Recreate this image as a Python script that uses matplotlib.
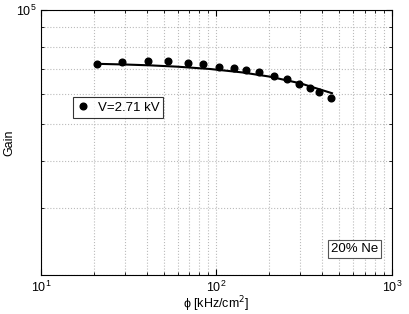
import matplotlib
matplotlib.use("Agg")
import matplotlib.pyplot as plt
from matplotlib.ticker import LogLocator, NullFormatter, FixedLocator, LogFormatterSciNotation

plt.rcParams['font.family'] = ['Liberation Sans', 'DejaVu Sans']

# measured gain vs rate
rate = [20.9, 28.9, 40.7, 52.9, 68.8, 83.8, 103.3, 125.8, 147.2, 174.6,
        212.6, 252, 295, 341, 384, 449]
gain = [72100, 72950, 73400, 73400, 72500, 72100, 70800, 70350, 69500, 68650,
        67000, 65800, 63800, 62300, 60800, 58700]

# fitted curve
fit_rate = [21, 30, 42, 60, 92, 140, 200, 300, 455]
fit_gain = [72120, 71830, 71450, 70880, 69890, 68460, 66750, 64080, 60340]

legend_label = "V=2.71 kV"
gas_label = "20% Ne"

fig = plt.figure(figsize=(4.09, 3.14), dpi=100)
ax = fig.add_axes([0.1002, 0.1242, 0.8582, 0.8439])

ax.plot(fit_rate, fit_gain, color='black', lw=1.5)
ax.plot(rate, gain, 'o', color='black', ms=4.8, label=legend_label)

ax.set_xscale('log')
ax.set_yscale('log')
ax.set_xlim(10, 1000)
ax.set_ylim(2e4, 1e5)

ax.xaxis.set_major_locator(FixedLocator([10, 100, 1000]))
ax.xaxis.set_minor_locator(LogLocator(base=10, subs=range(2, 10)))
ax.xaxis.set_minor_formatter(NullFormatter())
ax.yaxis.set_major_locator(FixedLocator([1e5]))
ax.yaxis.set_major_formatter(LogFormatterSciNotation())
ax.yaxis.set_minor_locator(FixedLocator([2e4, 3e4, 4e4, 5e4, 6e4, 7e4, 8e4, 9e4]))
ax.yaxis.set_minor_formatter(NullFormatter())

ax.grid(True, which='both', linestyle=':', color='#bbbbbb', lw=0.8)
ax.tick_params(which='both', direction='in', top=True, right=True, labelsize=9)
ax.tick_params(which='major', length=4)
ax.tick_params(which='minor', length=2)
for s in ax.spines.values():
    s.set_linewidth(0.8)

ax.set_xlabel("\u03d5 [kHz/cm$^2$]", fontsize=9)
ax.set_ylabel("Gain", fontsize=9)
ax.xaxis.set_label_coords(0.5, -0.075)
ax.yaxis.set_label_coords(-0.072, 0.5)

leg = ax.legend(loc='upper left', bbox_to_anchor=(0.09, 0.67), fontsize=9.5,
                frameon=True, fancybox=False, edgecolor='black', handlelength=1.0,
                handletextpad=0.6, borderpad=0.3, borderaxespad=0)
leg.get_frame().set_linewidth(0.8)

ax.text(0.893, 0.098, gas_label, transform=ax.transAxes, fontsize=9.5, ha='center', va='center',
        bbox=dict(boxstyle='square,pad=0.25', facecolor='white', edgecolor='#555555', lw=0.8))

fig.savefig("out.png", dpi=100)
